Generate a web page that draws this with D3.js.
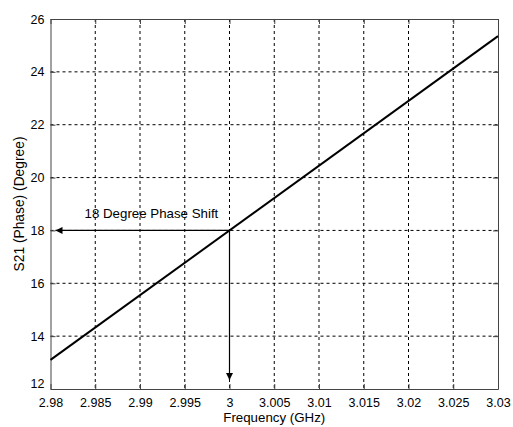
<!DOCTYPE html>
<html>
<head>
<meta charset="utf-8">
<script src="https://cdn.jsdelivr.net/npm/d3@7"></script>
<style>
  body { margin: 0; background: #fff; }
  text { font-family: Arial, "Liberation Sans", sans-serif; fill: #000; }
</style>
</head>
<body>
<div id="container"></div>
<script>
const WIDTH = 513;
const HEIGHT = 427;
const MARGIN = { TOP: 19, BOTTOM: 38, LEFT: 50.5, RIGHT: 15 };

const width = WIDTH - MARGIN.LEFT - MARGIN.RIGHT;
const height = HEIGHT - MARGIN.TOP - MARGIN.BOTTOM;

// data
const freq = [2.98, 3.03];
const phase = [13.1, 25.35];
const xTicks = [2.98, 2.985, 2.99, 2.995, 3, 3.005, 3.01, 3.015, 3.02, 3.025, 3.03];
const yTicks = [12, 14, 16, 18, 20, 22, 24, 26];
const markerFreq = 3;
const markerPhase = 18;
const annotation = '18 Degree Phase Shift';

const svg = d3.select('#container')
              .append('svg')
                .attr('width', WIDTH)
                .attr('height', HEIGHT);

const defs = svg.append('defs');
defs.append('marker')
      .attr('id', 'arrow')
      .attr('viewBox', '0 0 10 10')
      .attr('refX', 10)
      .attr('refY', 5)
      .attr('markerUnits', 'userSpaceOnUse')
      .attr('markerWidth', 9)
      .attr('markerHeight', 7)
      .attr('orient', 'auto')
    .append('path')
      .attr('d', 'M0,0 L10,5 L0,10 Z')
      .attr('fill', '#000');

const container = svg.append('g')
                     .attr('transform', `translate(${MARGIN.LEFT}, ${MARGIN.TOP})`);

const xscale = d3.scaleLinear().domain([2.98, 3.03]).range([0, width]);
const yscale = d3.scaleLinear().domain([12, 26]).range([height, 0]);

// grid
container.append('g')
  .selectAll('line')
  .data(xTicks.slice(1, -1))
  .enter().append('line')
    .attr('x1', d => xscale(d)).attr('x2', d => xscale(d))
    .attr('y1', 0).attr('y2', height)
    .attr('stroke', '#000')
    .attr('stroke-dasharray', '3,3');

container.append('g')
  .selectAll('line')
  .data(yTicks.slice(1, -1))
  .enter().append('line')
    .attr('x1', 0).attr('x2', width)
    .attr('y1', d => yscale(d)).attr('y2', d => yscale(d))
    .attr('stroke', '#000')
    .attr('stroke-dasharray', '3,3');

// axes
const fmt = d => String(d);
const axisBottom = d3.axisBottom(xscale).tickValues(xTicks).tickFormat(fmt)
                     .tickSizeInner(-5).tickSizeOuter(0).tickPadding(9);
const axisLeft = d3.axisLeft(yscale).tickValues(yTicks).tickFormat(fmt)
                   .tickSizeInner(-5).tickSizeOuter(0).tickPadding(6);
const axisTop = d3.axisTop(xscale).tickValues(xTicks).tickFormat('')
                  .tickSizeInner(-5).tickSizeOuter(0);
const axisRight = d3.axisRight(yscale).tickValues(yTicks).tickFormat('')
                    .tickSizeInner(-5).tickSizeOuter(0);

const gx = container.append('g').attr('transform', `translate(0, ${height})`).call(axisBottom);
const gy = container.append('g').call(axisLeft);
container.append('g').call(axisTop);
container.append('g').attr('transform', `translate(${width}, 0)`).call(axisRight);

container.selectAll('.domain').attr('stroke', '#444');
container.selectAll('.tick line').attr('stroke', '#444');
container.selectAll('.tick text')
         .style('font-size', '12.5px')
         .style('font-family', 'Arial, "Liberation Sans", sans-serif')
         .attr('fill', '#000');
gy.selectAll('.tick text').filter(d => d === 12).attr('dy', '-0.1em');

// series line
const line = d3.line().x(d => xscale(d[0])).y(d => yscale(d[1]));
container.append('path')
  .datum(d3.zip(freq, phase))
  .attr('d', line)
  .attr('fill', 'none')
  .attr('stroke', '#000')
  .attr('stroke-width', 2);

// annotation arrows
container.append('line')
  .attr('x1', xscale(markerFreq)).attr('y1', yscale(markerPhase))
  .attr('x2', xscale(2.98) + 5).attr('y2', yscale(markerPhase))
  .attr('stroke', '#000').attr('stroke-width', 1.2)
  .attr('marker-end', 'url(#arrow)');

container.append('line')
  .attr('x1', xscale(markerFreq)).attr('y1', yscale(markerPhase))
  .attr('x2', xscale(markerFreq)).attr('y2', height - 9)
  .attr('stroke', '#000').attr('stroke-width', 1.2)
  .attr('marker-end', 'url(#arrow)');

container.append('text')
  .attr('x', xscale(2.98) + 34)
  .attr('y', yscale(markerPhase) - 12)
  .style('font-size', '13.3px')
  .text(annotation);

// axis titles
svg.append('text')
   .attr('x', MARGIN.LEFT + width / 2)
   .attr('y', HEIGHT - 5)
   .attr('text-anchor', 'middle')
   .style('font-size', '13.3px')
   .text('Frequency (GHz)');

svg.append('text')
   .attr('transform', `translate(24, ${MARGIN.TOP + height / 2}) rotate(-90)`)
   .attr('text-anchor', 'middle')
   .style('font-size', '13.8px')
   .text('S21 (Phase) (Degree)');
</script>
</body>
</html>
